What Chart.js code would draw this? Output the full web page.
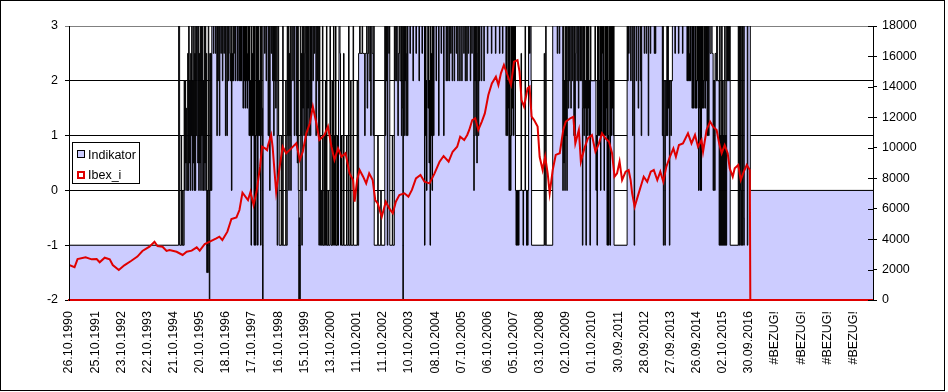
<!DOCTYPE html>
<html>
<head>
<meta charset="utf-8">
<script src="https://cdn.jsdelivr.net/npm/chart.js@4.4.1/dist/chart.umd.min.js"></script>
<style>
  html, body { margin: 0; padding: 0; background: #fff; }
  #wrap { width: 948px; height: 392px; }
</style>
</head>
<body>
<div id="wrap"><canvas id="chart" width="948" height="392"></canvas></div>
<script>
// Kategorie-Beschriftung (jede 52. Woche)
const tickLabels = [
  '26.10.1990', '25.10.1991', '23.10.1992', '22.10.1993', '21.10.1994', '20.10.1995',
  '18.10.1996', '17.10.1997', '16.10.1998', '15.10.1999', '13.10.2000', '11.10.2001',
  '11.10.2002', '10.10.2003', '08.10.2004', '07.10.2005', '06.10.2006', '05.10.2007',
  '03.10.2008', '02.10.2009', '01.10.2010', '30.09.2011', '28.09.2012', '27.09.2013',
  '26.09.2014', '02.10.2015', '30.09.2016', '#BEZUG!', '#BEZUG!', '#BEZUG!', '#BEZUG!'
];
const weeksPerLabel = 52;
const lastWeek = 1599;

// Indikator: [Woche ab der der Wert gilt, Wert]
const indikatorRuns = [
  [0,-1],
  [218,3],[220,-1],[223,1],[224,-1],[226,0],[227,-1],[229,2],[230,0],[231,2],[232,0.5],[233,1.5],[234,0],
  [236,2.5],[237,0],[238,3],[239,0.5],[240,2],[241,0],[242,2.5],[243,1],[244,3],[245,0],[246,2],[247,0.5],[248,3],[249,0],[250,2.5],[251,0],[252,3],[253,1],[254,3],[256,0.5],
  [257,3],[258,0],[259,2.5],[260,0.5],[261,3],[262,0],[263,3],[264,1],[265,3],[266,0],[267,2],[268,0],[269,3],[270,0.5],[271,3],[272,0],[273,2.5],
  [274,-1.5],[275,0],[276,-1.5],[277,3],[278,0],[279,-2],[280,2.5],
  [281,0],[282,2.5],[283,0],
  [284,3],[287,2.5],[288,3],[291,2.5],[292,3],
  [294,1],[295,3],[296,2],[297,3],[299,1],[300,3],
  [302,2.5],[303,3],[305,2],[306,3],[308,2.5],[309,3],
  [311,1],[312,3],[314,1],[315,3],[317,2],[318,3],
  [320,2.5],[321,2],[322,3],[323,0],[324,2.5],[325,2],[326,3],[327,2],[328,2.5],[329,3],
  [331,2],[332,3],[335,2],[336,3],[338,2],[339,3],
  [341,2],[342,3],[343,2],[344,3],[346,1.5],[347,3],
  [348,2],[349,3],[350,1.5],[351,3],[352,2],[353,3],[354,1.5],[355,2.5],[356,3],[357,2],
  [358,1],[359,3],[360,1],[361,2],[362,-1],[363,3],[364,1],[365,2.5],[366,1],[367,3],
  [368,-1],[369,3],[370,1],[371,-1],[372,3],[373,1],[374,3],[375,-1],[376,3],[377,1],[378,2],[379,1],[380,3],[381,-1],[382,1],[383,3],[384,1.5],
  [385,-2],[386,3],
  [389,2.5],[390,3],[392,2],[393,3],[396,1],[397,3],[399,0],[400,3],[402,2.5],[403,3],
  [405,2],[406,3],[407,1],[408,3],[409,2],[410,3],[411,1.5],[412,2],[413,3],
  [414,-1],[415,1],[416,3],[417,1],
  [418,-1],[422,1],[423,-1],[425,3],[426,-1],[431,2],[432,-1],[434,3],[435,1],
  [436,3],[437,0],[438,2.5],[439,1],[440,3],[441,0],[442,2],[443,3],
  [445,2],[446,3],[448,1],[449,3],
  [452,1],[453,3],[454,0.5],[455,3],[456,0],[457,-2],[458,-0.5],[459,-2],[460,3],
  [461,1],[462,2.5],[463,-1],[464,3],[465,1.5],[466,3],[467,1],[468,2.5],[469,3],[470,0],
  [472,3],[473,1],[474,3],[475,1.5],[476,3],[477,1],[478,2],[479,3],[480,1],[481,3],[482,1.5],
  [483,3],[485,2],[486,3],[488,2.5],[489,3],[491,1],[492,3],[494,2],
  [495,3],[496,1],[497,-1],[498,3],[499,1],[500,-1],[501,0],[502,-1],[504,3],[505,-1],[507,1],[508,-1],[510,2],[511,-1],
  [512,3],[513,-1],[515,0],[516,-1],[519,3],[520,1],[521,-1],[523,2],[524,-1],[526,3],[527,1],[528,-1],[530,3],[531,-1],[533,1],[534,-1],
  [536,2],[537,3],[539,2.5],[540,-1],[542,1],[543,-1],[546,2.5],[547,-1],[552,1],[553,-1],[556,3],[557,-1],[560,2],[561,-1],[565,3],[566,-1],
  [573,2],[574,-1],[576,2.5],[578,3],[579,2.5],[583,3],[584,2.5],[588,1],[589,2.5],[592,3],[593,1.5],[594,2.5],
  [596,3],[597,2],[599,3],[600,1],[601,3],[603,2.5],[605,1],[606,3],[607,-1],
  [614,1],[615,-1],[620,0],[621,-1],
  [628,3],[629,1],[630,3],[631,2],[632,3],[633,-1],[634,3],[636,2.5],[637,3],
  [638,-1],[643,1],[644,-1],[647,3],[648,2],[649,3],[651,2],[652,3],[654,1],[655,2.5],[657,3],[658,2],
  [660,3],[661,1],[662,3],[663,1.5],[664,-2],[665,3],[666,1],[667,3],[668,2],[669,3],[670,1],[671,2.5],[672,3],[673,1],
  [674,3],[678,2.5],[679,3],[684,2],[685,3],[690,2.5],[691,3],[696,2],[697,3],[702,2.5],[703,3],
  [707,-1],[708,3],[709,1],[710,2],[711,0],[712,3],[714,1.5],[715,3],[716,0.5],[717,2],[718,-1],[719,3],[720,1],[721,2.5],[722,0],[723,3],[725,1],[726,3],
  [730,2],[731,3],[735,1],[736,3],[740,2.5],[741,3],[745,1],[746,3],[750,2],[751,3],
  [753,2],[754,3],[756,2],[757,3],[759,2.5],[760,3],[762,2],[763,3],[766,2],[767,3],[770,2.5],[771,3],[773,2],[774,3],[777,2],[778,3],[781,2],[782,3],[785,2.5],[786,3],[788,2],[789,3],[791,2],[792,3],
  [794,2.5],[795,3],[798,2],[799,3],[801,2.5],[802,3],
  [805,0],[806,3],[807,2],[808,3],[809,1],[810,3],[811,0.5],[812,2.5],[813,3],[814,1],[815,3],[816,2],[817,3],
  [820,2],[821,3],[825,2],[826,3],[832,2.5],[833,3],[840,2.5],[841,3],[848,2.5],[849,3],[856,2.5],[857,3],[862,2.5],[863,3],
  [869,1],[870,3],[871,2],[872,1],[873,3],[874,1.5],[875,0],[876,3],[877,1],[878,0],[879,3],[880,1],[881,3],[882,1.5],[883,3],[884,1],[885,3],[886,2],[887,3],
  [888,0],[889,-1],[890,0],[891,-1],[892,0],[894,-1],[895,0],[899,2.5],[900,0],[903,-1],[904,0],[907,3],[908,0],[910,-1],[911,0],[912,-1],[913,0],
  [914,3],[916,2.5],[917,3],[919,2],
  [920,-1],[945,2.5],[946,-1],[948,3],[949,-1],
  [962,3],[971,2.5],[972,3],[975,2.5],[976,3],
  [982,0],[983,3],[984,0.5],[985,2],[986,0],[987,3],
  [988,1],[989,3],[990,0],[991,2],[992,3],[993,1.5],
  [994,3],[995,2],[996,3],[998,1.5],[999,3],[1001,2],[1002,3],[1004,1],[1005,3],[1006,1],[1007,2.5],[1008,3],[1010,2],[1011,3],[1013,1.5],[1014,3],[1016,2],[1017,3],
  [1018,2],[1019,3],[1021,-1],[1022,1.5],[1023,3],
  [1024,1],[1025,3],[1026,1.5],[1027,2],[1028,-1],[1029,3],[1030,1],[1031,3],[1032,1.5],[1033,3],[1034,1],[1035,2],[1036,-1],[1037,3],
  [1038,2],[1046,3],[1047,2],
  [1048,0],[1049,1],[1050,-1],[1051,3],[1052,1],[1053,3],[1054,2],[1055,1],[1056,3],[1057,0],[1058,3],[1059,1],[1060,2.5],[1061,3],[1062,1],[1063,3],[1064,0],[1065,2],[1066,3],[1067,1],[1068,3],[1069,1.5],
  [1070,-1],[1071,3],[1072,1],[1073,-1],[1074,3],[1075,2],[1076,-1],[1077,3],
  [1078,1],[1079,3],[1080,1.5],[1081,3],[1082,1],[1083,3],
  [1084,-1],[1110,3],[1111,2],[1112,3],[1113,2.5],
  [1114,3],[1117,2],[1118,3],[1121,1],[1122,3],[1124,-1],[1125,3],[1128,2],[1129,3],[1132,1.5],[1133,3],[1136,2],[1137,3],[1138,1],[1139,3],
  [1144,2.5],[1145,3],[1148,2.5],[1149,3],[1152,1],[1153,3],[1156,2.5],[1157,3],
  [1164,2.5],[1165,3],[1166,2.5],[1167,3],
  [1180,1],[1181,3],
  [1182,-1],[1183,2],[1185,-1],[1186,2],[1188,1],
  [1189,3],[1190,1],[1191,3],[1192,1.5],
  [1193,2],[1194,-1],[1195,2],[1197,1],[1198,2],[1200,3],
  [1205,2.5],[1206,3],[1212,2.5],[1213,3],[1220,2.5],[1221,3],
  [1229,2],[1230,3],[1231,2],[1232,3],[1233,2.5],[1234,2],[1235,3],[1236,2],[1237,3],
  [1239,1.5],[1240,3],[1242,1.5],[1243,3],
  [1245,1.5],[1246,3],[1247,2],[1248,1.5],[1249,3],[1250,2],[1251,3],[1252,0],[1253,3],[1254,1.5],
  [1255,0],[1256,3],[1257,0],[1258,3],
  [1259,1.5],[1260,3],[1261,2],[1262,1.5],[1263,3],[1264,2],[1265,1.5],[1266,3],[1267,2],[1268,3],
  [1269,1],[1270,3],[1272,1],[1273,3],[1275,2.5],[1277,3],[1279,2.5],[1281,0],[1282,2],[1284,0],[1285,2.5],[1287,2],[1288,3],[1290,2],
  [1293,-1],[1294,3],[1295,-1],[1296,1],[1297,-1],[1298,3],[1299,-1],[1300,2],[1301,-1],[1302,1],[1303,-1],[1304,3],[1305,-1],[1306,1],[1307,-1],[1308,3],
  [1309,2],[1310,3],[1311,2],[1312,3],[1313,2],[1314,3],
  [1315,-1],[1331,3],
  [1332,-1],[1333,3],[1334,-1],[1335,3],[1336,0],[1337,-1],[1338,3],[1339,-1],[1340,3],[1341,-0.5],
  [1342,-1],[1343,3],[1349,-1],[1350,3],
  [1355,0],[1599,0]
];

// Ibex_i: [Woche, Indexstand]
const ibexPoints = [
  [0,2300],[11,2150],[17,2690],[33,2800],[45,2670],[55,2690],[61,2480],[71,2780],[81,2670],[87,2300],
  [99,1970],[110,2280],[124,2580],[136,2850],[146,3220],[160,3500],[170,3830],[176,3550],[186,3500],[194,3220],
  [200,3280],[214,3170],[226,2960],[234,3170],[244,3240],[254,3460],[260,3240],[270,3680],[280,3830],[293,4050],
  [299,4160],[305,3940],[315,4490],[323,5320],[333,5430],[339,5910],[345,7050],[356,6570],[361,7110],[367,6240],
  [373,7110],[380,8760],[384,10070],[390,9960],[394,9850],[396,10180],[402,10840],[405,10050],[409,8340],[412,7110],
  [419,8760],[425,10070],[432,9640],[442,9960],[452,10290],[459,9200],[465,9740],[472,10950],[479,11610],[485,12700],
  [492,11610],[498,10510],[508,10840],[515,11390],[522,10070],[528,9200],[535,9960],[542,9410],[550,9640],[558,8320],
  [565,7880],[568,6460],[573,7880],[578,8540],[585,8100],[591,7660],[597,8320],[604,7880],[609,6570],[614,6350],
  [622,5470],[630,6460],[637,6020],[644,5700],[650,6460],[657,6900],[667,7010],[675,6790],[682,7230],[690,7990],
  [699,8210],[707,7770],[717,7660],[727,8320],[737,9090],[745,9460],[755,9090],[763,9740],[772,10070],[778,10730],
  [786,10510],[792,10840],[796,11170],[802,11820],[808,11940],[814,11170],[821,11720],[827,12260],[834,13470],[841,14230],
  [849,14670],[854,14120],[859,14890],[865,15440],[872,14780],[879,14120],[885,15650],[892,15760],[896,15000],[900,13140],
  [905,12700],[912,13910],[916,14010],[920,12040],[925,11820],[932,11390],[936,9410],[942,8540],[947,9410],[952,8320],
  [956,7010],[962,8540],[968,9530],[976,9640],[983,11170],[988,11720],[997,11940],[1003,12040],[1007,10290],[1014,11170],
  [1018,9090],[1025,9960],[1032,10620],[1040,10840],[1047,9740],[1054,10290],[1060,10950],[1067,10620],[1074,10400],[1080,9640],
  [1085,8100],[1090,8320],[1095,9090],[1100,7880],[1107,8430],[1113,8540],[1117,7880],[1120,7010],[1125,6130],[1131,6790],
  [1138,7550],[1143,8100],[1150,7770],[1157,8430],[1163,8540],[1170,7880],[1176,8430],[1182,7770],[1188,8760],[1195,9410],
  [1202,9960],[1207,9410],[1213,10180],[1221,10290],[1231,10950],[1238,10290],[1245,10840],[1251,10070],[1258,10510],[1261,9740],
  [1268,11170],[1275,11720],[1281,11390],[1288,11170],[1293,10290],[1298,9640],[1304,10180],[1310,9640],[1314,8650],[1320,8100],
  [1324,8650],[1331,8870],[1336,7880],[1342,8430],[1348,8870],[1354,8540],[1355,0],[1599,0]
];

const FONT = "'Liberation Sans', Arial, sans-serif";
const LAVENDER = '#ccccff';
const RED = '#e00000';

// Rahmen, Legende und nach innen ragende Teilstriche der rechten Achse
const excelLook = {
  id: 'excelLook',
  beforeDraw(chart) {
    const ctx = chart.ctx;
    ctx.save();
    ctx.fillStyle = '#fff';
    ctx.fillRect(0, 0, chart.width, chart.height);
    ctx.restore();
  },
  afterDraw(chart) {
    const ctx = chart.ctx;
    const ds = chart.data.datasets;
    ctx.save();

    // innere Teilstriche rechts
    const s = chart.scales.y1;
    ctx.strokeStyle = '#000';
    ctx.lineWidth = 1;
    ctx.beginPath();
    s.ticks.forEach(t => {
      const y = Math.round(s.getPixelForValue(t.value)) + 0.5;
      ctx.moveTo(s.left - 5, y);
      ctx.lineTo(s.left, y);
    });
    ctx.stroke();

    // Legende
    ctx.fillStyle = '#fff';
    ctx.fillRect(72, 142, 68, 42);
    ctx.strokeStyle = '#000';
    ctx.strokeRect(72.5, 142.5, 67, 41);

    ctx.fillStyle = LAVENDER;
    ctx.fillRect(77, 150, 8, 8);
    ctx.strokeStyle = '#000';
    ctx.strokeRect(77.5, 150.5, 7, 7);

    ctx.fillStyle = '#fff';
    ctx.fillRect(77, 171, 8, 8);
    ctx.strokeStyle = RED;
    ctx.lineWidth = 2;
    ctx.strokeRect(78, 172, 6, 6);

    ctx.fillStyle = '#000';
    ctx.font = '12.5px ' + FONT;
    ctx.textBaseline = 'alphabetic';
    ctx.textAlign = 'left';
    ctx.fillText(ds[0].label, 88, 158.5);
    ctx.fillText(ds[1].label, 88, 179);

    // Außenrahmen
    ctx.lineWidth = 1;
    ctx.strokeStyle = '#000';
    ctx.strokeRect(0.5, 0.5, 944, 390);
    ctx.restore();
  }
};

new Chart(document.getElementById('chart'), {
  type: 'line',
  data: {
    datasets: [
      {
        label: 'Indikator',
        data: indikatorRuns.map(([w, v]) => ({ x: w, y: v })),
        yAxisID: 'y',
        stepped: 'before',
        borderColor: '#000',
        borderWidth: 1,
        backgroundColor: LAVENDER,
        fill: 'start',
        pointRadius: 0,
        order: 2
      },
      {
        label: 'Ibex_i',
        data: ibexPoints.map(([w, v]) => ({ x: w, y: v })),
        yAxisID: 'y1',
        borderColor: RED,
        borderWidth: 2,
        fill: false,
        pointRadius: 0,
        tension: 0,
        order: 1
      }
    ]
  },
  options: {
    responsive: false,
    animation: false,
    events: [],
    layout: { padding: { top: 26, left: 0, right: 0, bottom: 0 } },
    plugins: {
      legend: { display: false },
      tooltip: { enabled: false }
    },
    scales: {
      x: {
        type: 'linear',
        position: 'bottom',
        min: 0,
        max: lastWeek,
        afterBuildTicks: axis => {
          axis.ticks = tickLabels.map((l, i) => ({ value: i * weeksPerLabel }));
        },
        afterFit: axis => { axis.height = 92; },
        grid: { drawOnChartArea: false, drawTicks: false },
        border: { display: true, color: RED, width: 2, z: 1 },
        ticks: {
          autoSkip: false,
          minRotation: 90,
          maxRotation: 90,
          padding: 11,
          color: '#000',
          font: { family: FONT, size: 12.5 },
          callback: (value, index) => tickLabels[index]
        }
      },
      y: {
        position: 'left',
        min: -2,
        max: 3,
        afterFit: axis => { axis.width = 69; },
        grid: {
          color: c => (c.tick && c.tick.value === 3 ? '#808080' : '#000'),
          lineWidth: 1,
          tickLength: 4
        },
        border: { display: true, color: '#000', width: 1, z: 1 },
        ticks: {
          stepSize: 1,
          padding: 7,
          color: '#000',
          font: { family: FONT, size: 12.5 },
          callback: v => String(v)
        }
      },
      y1: {
        position: 'right',
        min: 0,
        max: 18000,
        afterFit: axis => { axis.width = 75; },
        grid: { drawOnChartArea: false, color: '#000', tickLength: 4 },
        border: { display: true, color: '#000', width: 1, z: 1 },
        ticks: {
          stepSize: 2000,
          padding: 5,
          color: '#000',
          font: { family: FONT, size: 12.5 },
          callback: v => String(v)
        }
      }
    }
  },
  plugins: [excelLook]
});
</script>
</body>
</html>
